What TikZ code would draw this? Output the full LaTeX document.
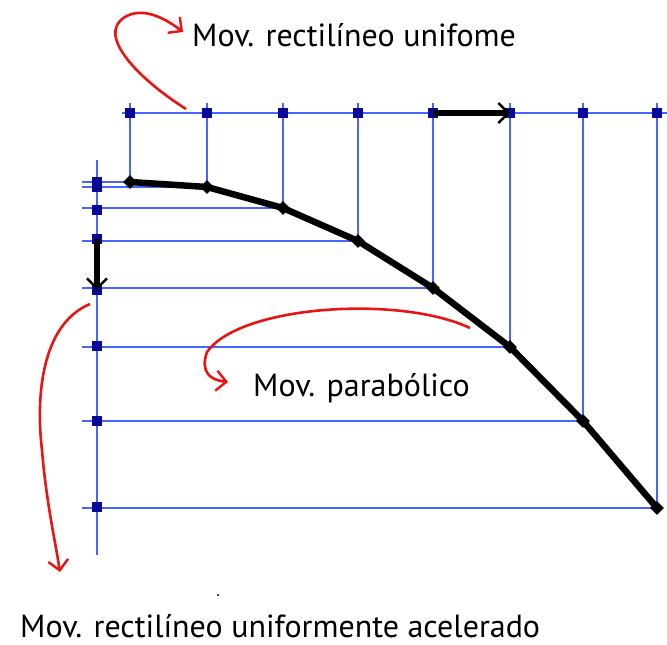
\documentclass[tikz,border=0pt]{standalone}
\usepackage{fontspec}
\setmainfont{PT Sans}
\usetikzlibrary{arrows.meta,shapes.geometric}
\definecolor{gridblue}{RGB}{70,100,255}
\definecolor{markblue}{RGB}{10,10,150}
\definecolor{arrred}{RGB}{235,20,20}
\tikzset{
  gridline/.style={draw=gridblue, line width=1.3pt},
  sq/.style={fill=markblue, minimum size=10pt, inner sep=0pt, draw=none, rectangle},
  pt/.style={fill=black, minimum size=14pt, inner sep=0pt, draw=none, diamond},
  traj/.style={line width=6.5pt, black, line join=round},
  motarrow/.style={line width=6.5pt, black, -{Straight Barb[length=10pt,width=20pt,line width=2.4pt]}},
  redarrow/.style={arrred, line width=2.6pt, -{Straight Barb[length=10pt,width=20pt,line width=2.4pt]}},
  lbl/.style={font=\fontsize{32}{37}\selectfont, inner sep=0pt, anchor=west, text=black}
}
\begin{document}
\begin{tikzpicture}[x=1pt,y=-1pt]
\useasboundingbox (0,0) rectangle (667,645);
\fill[white] (0,0) rectangle (667,645);
% trajectory points
\foreach \n/\x/\y in {0/130/182,1/207/187,2/283/208,3/358/241,4/433/288,5/510/347,6/583/421,7/657/508}{
  \coordinate (p\n) at (\x,\y);
  \coordinate (t\n) at (\x,113);
  \coordinate (tt\n) at (\x,103);
  \coordinate (ll\n) at (82,\y);
}
% grid
\draw[gridline] (122,113) -- (667,113);
\draw[gridline] (97,160) -- (97,555);
\foreach \n in {0,...,7}{
  \draw[gridline] (tt\n) -- (p\n);
  \draw[gridline] (ll\n) -- (p\n);
}
% markers
\foreach \n in {0,...,7}{
  \node[sq] (mt\n) at (t\n) {};
}
\foreach \n/\y in {0/182,1/187,2/210,3/239,4/290,5/346,6/421,7/507}{
  \node[sq] (ml\n) at (97,\y) {};
}
% trajectory
\draw[traj] (p0) -- (p1) -- (p2) -- (p3) -- (p4) -- (p5) -- (p6) -- (p7);
\foreach \n in {0,...,7}{ \node[pt] (d\n) at (p\n) {}; }
% velocity arrows
\draw[motarrow] (mt4.center) -- (mt5.center);
\draw[motarrow] (ml3.center) -- (ml4.center);
% labels
\node[lbl] (lab1) at (192,35) {Mov. rectilíneo unifome};
\node[lbl] (lab2) at (253,388) {Mov. parabólico};
\node[lbl] (lab3) at (20,626) {Mov. rectilíneo uniformente acelerado};
% red arrows
\coordinate (r1s) at (186,109);
\coordinate (r1e) at (183,32);
\draw[redarrow] (r1s) .. controls (140,80) and (95,35) .. (125,17) .. controls (145,5) and (170,22) .. (r1e);
\coordinate (r2s) at (90,304);
\coordinate (r2e) at (60,572);
\draw[redarrow] (r2s) .. controls (40,325) and (36,400) .. (42,450) .. controls (46,500) and (55,540) .. (r2e);
\coordinate (r3s) at (470,328);
\coordinate (r3e) at (228,382);
\draw[redarrow] (r3s) .. controls (400,295) and (240,305) .. (207,352) .. controls (200,372) and (210,380) .. (r3e);
\fill[black] (218,595) circle (1.2);
\end{tikzpicture}
\end{document}
